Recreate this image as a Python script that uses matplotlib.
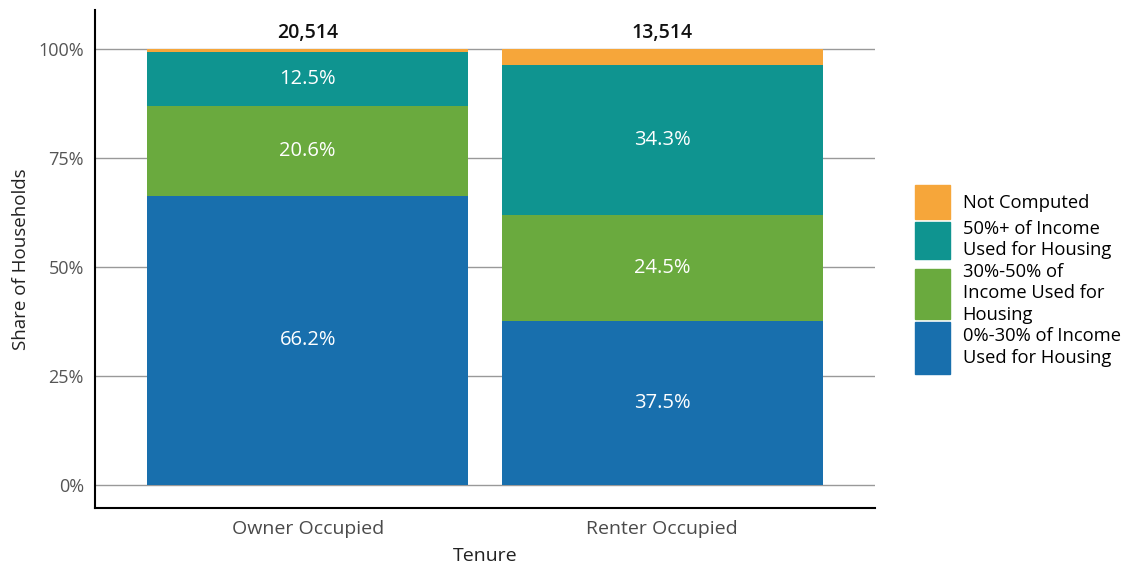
import numpy as np
import matplotlib
matplotlib.use("Agg")
import matplotlib.pyplot as plt
import matplotlib.patches as mpatches
from matplotlib.legend_handler import HandlerPatch

plt.rcParams['font.family'] = ['Open Sans', 'DejaVu Sans']

tenure = ["Owner Occupied", "Renter Occupied"]
totals = ["20,514", "13,514"]
series = ["0%-30% of Income\nUsed for Housing",
          "30%-50% of\nIncome Used for\nHousing",
          "50%+ of Income\nUsed for Housing",
          "Not Computed"]
low = [66.2, 37.5]
mid = [20.6, 24.5]
high = [12.5, 34.3]
not_computed = [0.7, 3.7]
colors = ["#186fad", "#6aaa3e", "#0f9490", "#f6a63a"]


class BoxHandler(HandlerPatch):
    # legend square with its own height (points), centred on the entry
    def __init__(self, h):
        super().__init__()
        self.h = h

    def create_artists(self, legend, orig_handle, xdescent, ydescent,
                       width, height, fontsize, trans):
        cy = -ydescent + height / 2
        p = mpatches.Rectangle((-xdescent, cy - self.h / 2), width, self.h)
        self.update_prop(p, orig_handle, legend)
        p.set_transform(trans)
        return [p]


fig = plt.figure(figsize=(11.31, 5.63), dpi=100)
ax = fig.add_axes([0.084, 0.098, 0.6897, 0.884])

x = np.arange(len(tenure))
bottom = np.zeros(len(tenure))
for vals, name, c in zip([low, mid, high, not_computed], series, colors):
    vals = np.array(vals)
    ax.bar(x, vals, 0.904, bottom=bottom, color=c, label=name, zorder=2)
    if name != "Not Computed":
        for xi, v, b0 in zip(x, vals, bottom):
            ax.text(xi, b0 + v / 2, f"{v:.1f}%", ha="center", va="center",
                    color="white", fontsize=14.5, zorder=3)
    bottom += vals

for xi, t in zip(x, totals):
    ax.text(xi, 101.3, t, ha="center", va="bottom", fontsize=14,
            fontweight="semibold", color="#111111")

ax.set_xlim(-0.6, 1.6)
ax.set_ylim(-5.3, 108.9)
ax.set_yticks([0, 25, 50, 75, 100])
ax.set_yticklabels(["0%", "25%", "50%", "75%", "100%"])
ax.set_xticks(x)
ax.set_xticklabels(tenure)
ax.tick_params(axis="y", length=0, labelsize=13, colors="#555555", pad=8)
ax.tick_params(axis="x", length=0, labelsize=14, colors="#4a4a4a", pad=9)
ax.yaxis.grid(True, color="#999999", linewidth=1, zorder=1)
ax.set_axisbelow(True)
for s in ["top", "right"]:
    ax.spines[s].set_visible(False)
ax.spines["left"].set_linewidth(1.5)
ax.spines["bottom"].set_linewidth(1.5)
ax.set_ylabel("Share of Households", fontsize=13.5, color="#222222", labelpad=6)
ax.set_xlabel("Tenure", fontsize=14, color="#222222", labelpad=6)

# legend squares, top entry first, heights in points
box_h = [24.5, 27, 36, 37.5]
proxies = [mpatches.Patch(color=c) for c in colors[::-1]]
hmap = {p: BoxHandler(h) for p, h in zip(proxies, box_h)}
leg = ax.legend(proxies, series[::-1], handler_map=hmap, loc="center left",
                bbox_to_anchor=(1.051, 0.462), frameon=False, fontsize=13.2,
                handlelength=1.9, handleheight=1.9, labelspacing=0.2,
                handletextpad=0.7, borderpad=0, borderaxespad=0)
for t in leg.get_texts():
    t.set_linespacing(1.25)

fig.savefig("out.png", dpi=100, facecolor="white")
